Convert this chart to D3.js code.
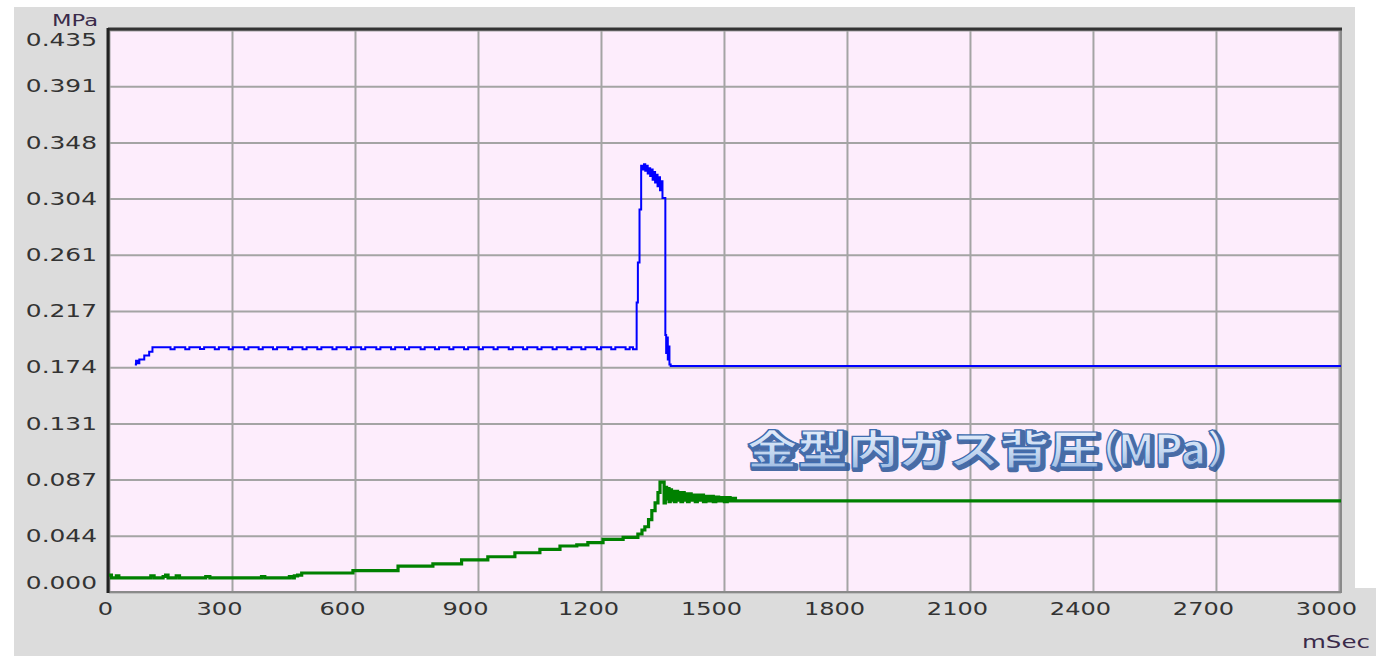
<!DOCTYPE html>
<html>
<head>
<meta charset="utf-8">
<script src="https://cdn.jsdelivr.net/npm/d3@7"></script>
<style>
  body { margin: 0; background: #fff; }
  svg { display: block; }
</style>
</head>
<body>
<div id="chart"></div>
<script>
// tick values / labels
const xTicks = [0, 300, 600, 900, 1200, 1500, 1800, 2100, 2400, 2700, 3000];
const yTicks = [0, 0.0435, 0.087, 0.1305, 0.174, 0.2175, 0.261, 0.3045, 0.348, 0.3915, 0.435];
const yTickLabels = ["0.000", "0.044", "0.087", "0.131", "0.174", "0.217", "0.261", "0.304", "0.348", "0.391", "0.435"];

// [mSec, MPa] - blue trace
const blueSeries = [
  [63, 0.176], [66, 0.179], [70, 0.177], [74, 0.180], [86, 0.183], [98, 0.186], [106, 0.1895],
  [150, 0.1878], [160, 0.1895], [186, 0.1878], [196, 0.1895], [222, 0.188], [232, 0.1895],
  [258, 0.1878], [268, 0.1895], [292, 0.1878], [302, 0.1895], [330, 0.1878], [340, 0.1895],
  [365, 0.1878], [375, 0.1895], [400, 0.1878], [410, 0.1895], [437, 0.1878], [447, 0.1895],
  [472, 0.1878], [482, 0.1895], [508, 0.1878], [518, 0.1895], [545, 0.1878], [555, 0.1895],
  [580, 0.1878], [590, 0.1895], [615, 0.1878], [625, 0.1895], [652, 0.1878], [662, 0.1895],
  [688, 0.1878], [698, 0.1895], [722, 0.1878], [732, 0.1895], [760, 0.1878], [770, 0.1895],
  [795, 0.1878], [805, 0.1895], [830, 0.1878], [840, 0.1895], [866, 0.1878], [876, 0.1895],
  [902, 0.1878], [912, 0.1895], [938, 0.1878], [948, 0.1895], [975, 0.1878], [985, 0.1895],
  [1010, 0.1878], [1020, 0.1895], [1045, 0.1878], [1055, 0.1895], [1082, 0.1878], [1092, 0.1895],
  [1118, 0.1878], [1128, 0.1895], [1152, 0.1878], [1162, 0.1895], [1190, 0.1878], [1200, 0.1895],
  [1225, 0.1878], [1235, 0.1895], [1260, 0.1878], [1270, 0.1895], [1278, 0.1878],
  [1287, 0.224], [1290, 0.255], [1294, 0.296], [1298, 0.330], [1302, 0.327], [1305, 0.331],
  [1308, 0.326], [1311, 0.330], [1314, 0.324], [1317, 0.328], [1320, 0.322], [1323, 0.327],
  [1326, 0.319], [1329, 0.325], [1332, 0.317], [1335, 0.323], [1338, 0.314], [1341, 0.321],
  [1344, 0.311], [1347, 0.318], [1350, 0.305], [1357, 0.199], [1359, 0.185], [1361, 0.197],
  [1363, 0.180], [1365, 0.190], [1367, 0.176], [1370, 0.175], [3005, 0.1748]
];

// [mSec, MPa] - green trace
const greenSeries = [
  [0, 0.013], [6, 0.011], [18, 0.0125], [24, 0.011], [102, 0.0125], [110, 0.011],
  [132, 0.012], [138, 0.013], [144, 0.011], [164, 0.0125], [172, 0.011], [236, 0.012],
  [246, 0.011], [372, 0.012], [380, 0.011], [440, 0.012], [448, 0.011], [452, 0.0125],
  [460, 0.013], [470, 0.0147], [595, 0.0165], [705, 0.020], [790, 0.0217], [860, 0.0248],
  [924, 0.0273], [990, 0.0304], [1051, 0.033], [1100, 0.0356], [1141, 0.0364], [1168, 0.0382],
  [1205, 0.0408], [1254, 0.0423], [1290, 0.0449], [1300, 0.048], [1307, 0.0505], [1316, 0.056],
  [1324, 0.063], [1332, 0.069], [1339, 0.077], [1344, 0.085], [1352, 0.085], [1354, 0.069],
  [1357, 0.081], [1360, 0.072], [1363, 0.080], [1366, 0.070], [1369, 0.079], [1372, 0.071],
  [1375, 0.078], [1379, 0.070], [1383, 0.078], [1387, 0.071], [1391, 0.077], [1395, 0.070],
  [1399, 0.077], [1403, 0.071], [1407, 0.076], [1411, 0.070], [1415, 0.076], [1420, 0.071],
  [1425, 0.075], [1430, 0.070], [1435, 0.075], [1440, 0.071], [1445, 0.075], [1450, 0.070],
  [1456, 0.074], [1462, 0.0705], [1468, 0.074], [1474, 0.070], [1480, 0.0735], [1487, 0.0705],
  [1494, 0.073], [1501, 0.070], [1508, 0.073], [1515, 0.0705], [1522, 0.0725], [1528, 0.0705],
  [3005, 0.0705]
];

const W = 1376, H = 656;
const PLOT = {LEFT: 109, RIGHT: 1341, TOP: 30, BOTTOM: 592};

const svg = d3.select("#chart").append("svg")
    .attr("width", W)
    .attr("height", H);

// grey panel behind everything
svg.append("path")
    .attr("d", `M14,7 H1355 V588 H${W} V${H} H14 Z`)
    .attr("fill", "#dcdcdc");

const x = d3.scaleLinear().domain([0, 3005]).range([PLOT.LEFT, PLOT.RIGHT]);
const y = d3.scaleLinear().domain([0, 0.435]).range([PLOT.BOTTOM, PLOT.TOP]);

// plot background
svg.append("rect")
    .attr("x", PLOT.LEFT)
    .attr("y", PLOT.TOP)
    .attr("width", PLOT.RIGHT - PLOT.LEFT)
    .attr("height", PLOT.BOTTOM - PLOT.TOP)
    .attr("fill", "#fdedfc");

// gridlines
const gridX = svg.append("g")
    .attr("transform", `translate(0, ${PLOT.BOTTOM})`)
    .call(d3.axisBottom(x).tickValues(xTicks).tickSize(-(PLOT.BOTTOM - PLOT.TOP)).tickFormat(""));
const gridY = svg.append("g")
    .attr("transform", `translate(${PLOT.LEFT}, 0)`)
    .call(d3.axisLeft(y).tickValues(yTicks).tickSize(-(PLOT.RIGHT - PLOT.LEFT)).tickFormat(""));
[gridX, gridY].forEach(g => {
    g.select(".domain").remove();
    g.selectAll("line").attr("stroke", "#a4a4a4").attr("stroke-width", 2);
});

// frame
svg.append("rect")
    .attr("x", PLOT.LEFT)
    .attr("y", PLOT.TOP)
    .attr("width", PLOT.RIGHT - PLOT.LEFT)
    .attr("height", PLOT.BOTTOM - PLOT.TOP)
    .attr("fill", "none")
    .attr("stroke", "#8a8a8a")
    .attr("stroke-width", 2);
svg.append("line")
    .attr("x1", PLOT.LEFT - 1).attr("x2", PLOT.RIGHT + 1)
    .attr("y1", PLOT.TOP - 1).attr("y2", PLOT.TOP - 1)
    .attr("stroke", "#333").attr("stroke-width", 3);
svg.append("line")
    .attr("x1", PLOT.LEFT - 1).attr("x2", PLOT.LEFT - 1)
    .attr("y1", PLOT.TOP - 2).attr("y2", PLOT.BOTTOM + 1)
    .attr("stroke", "#222").attr("stroke-width", 3);

// text width helper: the screenshot is stretched horizontally
function stretch(sel) {
    sel.attr("textLength", function() {
        const s = this.textContent;
        const dots = (s.match(/\./g) || []).length;
        return (s.length - dots) * 15.3 + dots * 10;
    }).attr("lengthAdjust", "spacingAndGlyphs");
}

// y axis labels
const yAxis = svg.append("g")
    .attr("transform", `translate(97, 0)`)
    .call(d3.axisLeft(y).tickValues(yTicks).tickSize(0).tickPadding(0)
        .tickFormat((d, i) => yTickLabels[i]));
yAxis.select(".domain").remove();
yAxis.selectAll("text")
    .attr("font-family", "DejaVu Sans, Verdana, sans-serif")
    .attr("font-size", 18)
    .attr("fill", "#333")
    .attr("dy", (d, i) => i === 0 ? "-0.2em" : (i === yTicks.length - 1 ? "0.88em" : "0.32em"))
    .call(stretch);

// x axis labels
const xAxis = svg.append("g")
    .attr("transform", `translate(0, ${PLOT.BOTTOM})`)
    .call(d3.axisBottom(x).tickValues(xTicks).tickSize(0).tickPadding(10).tickFormat(d3.format("d")));
xAxis.select(".domain").remove();
xAxis.selectAll("text")
    .attr("font-family", "DejaVu Sans, Verdana, sans-serif")
    .attr("font-size", 18)
    .attr("fill", "#333")
    .attr("dx", d => d === 0 ? -4 : -13)
    .call(stretch);

// unit labels
svg.append("text")
    .attr("x", 52).attr("y", 26)
    .attr("font-family", "DejaVu Sans, Verdana, sans-serif")
    .attr("font-size", 16)
    .attr("fill", "#3a2a4a")
    .attr("textLength", 46).attr("lengthAdjust", "spacingAndGlyphs")
    .text("MPa");
svg.append("text")
    .attr("x", 1302).attr("y", 648)
    .attr("font-family", "DejaVu Sans, Verdana, sans-serif")
    .attr("font-size", 17)
    .attr("fill", "#3a2a4a")
    .attr("textLength", 68).attr("lengthAdjust", "spacingAndGlyphs")
    .text("mSec");

// traces
svg.append("clipPath").attr("id", "plotClip")
  .append("rect")
    .attr("x", PLOT.LEFT).attr("y", PLOT.TOP)
    .attr("width", PLOT.RIGHT - PLOT.LEFT).attr("height", PLOT.BOTTOM - PLOT.TOP);

const line = d3.line()
    .x(d => x(d[0]))
    .y(d => y(d[1]))
    .curve(d3.curveStepAfter);

svg.append("path")
    .datum(greenSeries)
    .attr("clip-path", "url(#plotClip)")
    .attr("d", line)
    .attr("fill", "none")
    .attr("stroke", "#008000")
    .attr("stroke-width", 3.2);

svg.append("path")
    .datum(blueSeries)
    .attr("clip-path", "url(#plotClip)")
    .attr("d", line)
    .attr("fill", "none")
    .attr("stroke", "#0000ff")
    .attr("stroke-width", 2);

// annotation: 金型内ガス背圧（MPa）
const defs = svg.append("defs");
const grad = defs.append("linearGradient")
    .attr("id", "annoFill")
    .attr("x1", 0).attr("y1", 0).attr("x2", 0).attr("y2", 1);
grad.append("stop").attr("offset", "0%").attr("stop-color", "#f4f8ff");
grad.append("stop").attr("offset", "55%").attr("stop-color", "#c9dbf2");
grad.append("stop").attr("offset", "100%").attr("stop-color", "#8fb0dc");

const annoParts = [
    {t: "金型内ガス背圧", x: 747, len: 353},
    {t: "（", x: 1080, len: null},
    {t: "MPa", x: 1118, len: 88},
    {t: "）", x: 1207, len: null}
];
const anno = svg.append("g");
annoParts.forEach(p => {
    [{dx: 2, dy: 2, shadow: true}, {dx: 0, dy: 0, shadow: false}].forEach(s => {
        const t = anno.append("text")
            .attr("x", p.x + s.dx).attr("y", 464 + s.dy)
            .attr("font-family", "Noto Sans CJK JP, sans-serif")
            .attr("font-weight", "bold")
            .attr("font-size", 40)
            .text(p.t);
        if (p.len) t.attr("textLength", p.len).attr("lengthAdjust", "spacingAndGlyphs");
        if (s.shadow) {
            t.attr("fill", "#2b5595").attr("stroke", "#2b5595")
             .attr("stroke-width", 4).attr("stroke-linejoin", "round").attr("opacity", 0.85);
        } else {
            t.attr("fill", "url(#annoFill)").attr("stroke", "#3f6db0").attr("stroke-width", 1.2);
        }
    });
});
</script>
</body>
</html>
